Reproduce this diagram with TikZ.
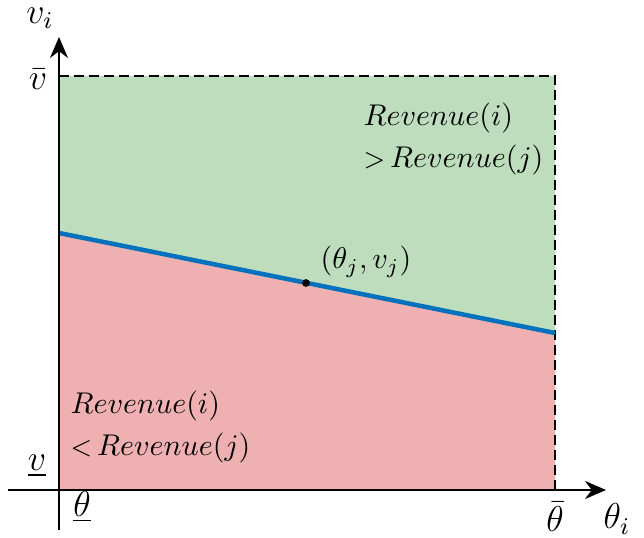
\documentclass[tikz,border=0pt]{standalone}
\usetikzlibrary{arrows.meta}
\definecolor{regG}{RGB}{190,221,189}
\definecolor{regR}{RGB}{239,176,177}
\definecolor{lineB}{RGB}{0,113,188}
\tikzset{
  axis/.style={line width=0.8pt,-{Stealth[length=7pt,width=6pt]}},
  border/.style={line width=0.9pt,dash pattern=on 3.2pt off 1.8pt},
  lbl/.style={inner sep=0pt},
  albl/.style={inner sep=0pt,font=\large},
}
\begin{document}
\begin{tikzpicture}[x=0.3333pt,y=-0.3333pt]
\useasboundingbox (0,0) rectangle (644,538);
\coordinate (O) at (59,490);
\coordinate (TL) at (59,76);
\coordinate (TR) at (555,76);
\coordinate (BR) at (555,490);
\coordinate (L1) at (59,233);
\coordinate (L2) at (555,333);
\fill[regG] (TL) -- (TR) -- (L2) -- (L1) -- cycle;
\fill[regR] (L1) -- (L2) -- (BR) -- (O) -- cycle;
\draw[border] (TL) -- (TR) -- (BR);
\draw[lineB,line width=1.5pt] (L1) -- (L2);
\coordinate (XS) at (8,490);
\coordinate (XE) at (606,490);
\coordinate (YS) at (59,530);
\coordinate (YE) at (59,37);
\draw[axis] (XS) -- (XE);
\draw[axis] (YS) -- (YE);
\node[circle,fill=black,inner sep=0pt,minimum size=2.6pt] (P) at (306,283) {};
\node[albl] (vi) at (40,18) {$v_i$};
\node[albl] (vbar) at (38,79) {$\bar{v}$};
\node[albl] (vund) at (37,466) {$\underline{v}$};
\node[albl] (tund) at (82,507) {$\underline{\theta}$};
\node[albl] (tbar) at (555,517) {$\bar{\theta}$};
\node[albl] (ti) at (617,519) {$\theta_i$};
\node[lbl,anchor=west] (pt) at (320,262) {$(\theta_j,v_j)$};
\node[lbl,anchor=west,align=left] (rg) at (363,139) {$Revenue(i)$\\[2pt] {\small >}\,$Revenue(j)$};
\node[lbl,anchor=west,align=left] (rr) at (70,427) {$Revenue(i)$\\[2pt] {\small <}\,$Revenue(j)$};
\end{tikzpicture}
\end{document}
